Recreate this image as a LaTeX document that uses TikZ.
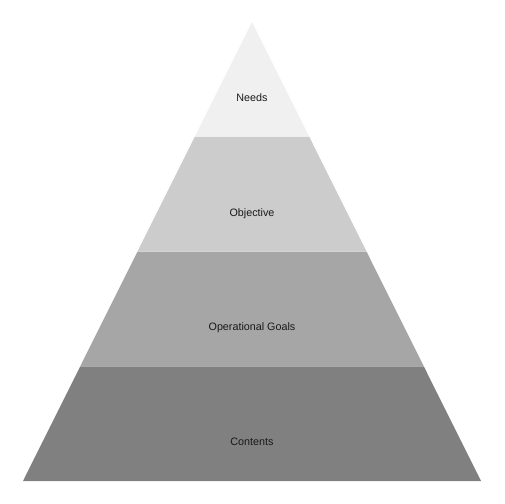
\documentclass[tikz,border=0pt]{standalone}
\usepackage{fontspec}
\setmainfont{Liberation Sans}
\begin{document}
\begin{tikzpicture}[x=1bp,y=-1bp,
  lbl/.style={font=\fontsize{10.8}{13}\selectfont,text=black!90,inner sep=0pt,anchor=base}]
\useasboundingbox (0,0) rectangle (504,504);
% levels
\fill[fill={rgb,255:red,128;green,128;blue,128}] (23,481) -- (80.25,366.25) -- (423.75,366.25) -- (481,481) -- cycle;
\fill[fill={rgb,255:red,166;green,166;blue,166}] (80.25,366.25) -- (137.5,251.5) -- (366.5,251.5) -- (423.75,366.25) -- cycle;
\fill[fill={rgb,255:red,204;green,204;blue,204}] (137.5,251.5) -- (194.75,136.75) -- (309.25,136.75) -- (366.5,251.5) -- cycle;
\fill[fill={rgb,255:red,240;green,240;blue,240}] (194.75,136.75) -- (252,22) -- (309.25,136.75) -- cycle;
\node[lbl] (needs) at (252,101.5) {Needs};
\node[lbl] (obj) at (252,216.5) {Objective};
\node[lbl] (opg) at (252,330.5) {Operational Goals};
\node[lbl] (cont) at (252,445.3) {Contents};
\end{tikzpicture}
\end{document}
